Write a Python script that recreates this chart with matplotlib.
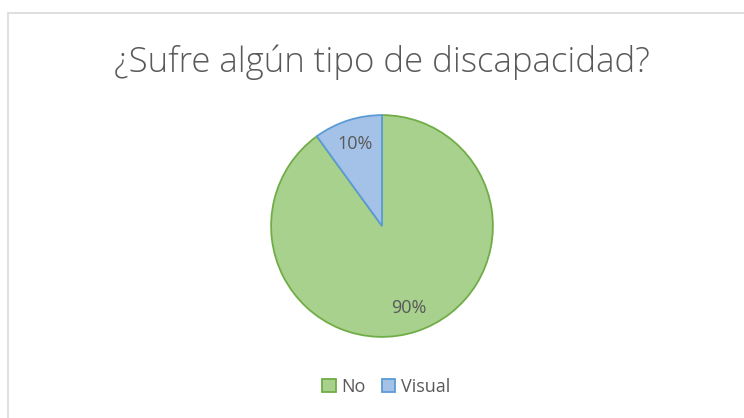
import matplotlib.pyplot as plt
from matplotlib.patches import Rectangle, Patch

categories = ["No", "Visual"]
values = [90, 10]
fill_colors = ["#a9d18e", "#a4c2e8"]
edge_colors = ["#70ad47", "#5b9bd5"]
title = "¿Sufre algún tipo de discapacidad?"

plt.rcParams['font.family'] = ['Open Sans', 'DejaVu Sans']

fig = plt.figure(figsize=(7.44, 4.18), dpi=100)

# chart frame
fig.patches.append(Rectangle((8 / 744, -0.02), 1.0, 1 - 13 / 418 + 0.02,
                             transform=fig.transFigure, fill=False,
                             edgecolor="#d9d9d9", linewidth=1.2))

ax = fig.add_axes([270 / 744, (418 - 338) / 418, 224 / 744, 224 / 418])
wedges, texts, autotexts = ax.pie(
    values, colors=fill_colors, startangle=90, counterclock=False,
    autopct="%1.0f%%", pctdistance=0.78,
    wedgeprops=dict(linewidth=1.3),
    textprops=dict(color="#595959", fontsize=13))
for w, ec in zip(wedges, edge_colors):
    w.set_edgecolor(ec)
ax.set_xlim(-1.01, 1.01)
ax.set_ylim(-1.01, 1.01)
ax.set_aspect("equal")

fig.text(382 / 744, 1 - 62 / 418, title, ha="center", va="center",
         fontsize=25, fontweight="light", color="#595959")

handles = [Patch(facecolor=f, edgecolor=e, linewidth=1.3, label=c)
           for c, f, e in zip(categories, fill_colors, edge_colors)]
fig.legend(handles=handles, loc="center", bbox_to_anchor=(386 / 744, 1 - 387 / 418),
           ncol=2, frameon=False, fontsize=13, labelcolor="#595959",
           handlelength=0.75, handleheight=0.75, handletextpad=0.3,
           columnspacing=0.9)

fig.savefig("out.png", dpi=100)
